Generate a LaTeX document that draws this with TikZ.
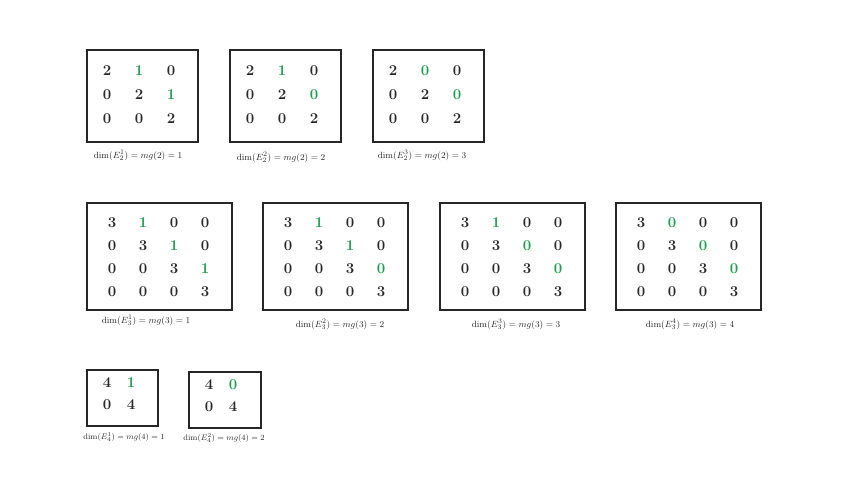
\documentclass[tikz,border=0pt]{standalone}
\usepackage{amsmath}
\definecolor{mk}{RGB}{40,40,40}
\definecolor{mg}{RGB}{25,160,75}
\tikzset{
  box/.style={draw=black!85, line width=2.2pt, anchor=north west, inner sep=0pt},
  ent/.style={font=\fontsize{15}{15}\selectfont\bfseries, inner sep=0pt},
  lab/.style={font=\fontsize{9.5}{10}\selectfont, inner sep=0pt, text=black!85},
}
% \Mat{name}{left}{top}{w}{h}{offx}{offy}{rows}; spacing from \mdx, \mdy
\newcommand\Mat[8]{%
  \node[box, minimum width=#4, minimum height=#5] (#1) at (#2,#3) {};
  \foreach \row [count=\i] in {#8} {
    \foreach \v/\c [count=\j] in \row {
      \node[ent, text=m\c] (#1e\i\j) at ({#2+#6+(\j-1)*\mdx},{#3+#7+(\i-1)*\mdy}) {\v};
    }
  }%
}
\begin{document}
\begin{tikzpicture}[x=1pt,y=-1pt]
\useasboundingbox (0,0) rectangle (848,495);
% row 1
\def\mdx{32}\def\mdy{24}
\Mat{a}{86}{49}{111pt}{92pt}{21}{22}{{2/k,1/g,0/k},{0/k,2/k,1/g},{0/k,0/k,2/k}}
\Mat{b}{229}{49}{111pt}{92pt}{21}{22}{{2/k,1/g,0/k},{0/k,2/k,0/g},{0/k,0/k,2/k}}
\Mat{c}{372}{49}{111pt}{92pt}{21}{22}{{2/k,0/g,0/k},{0/k,2/k,0/g},{0/k,0/k,2/k}}
\node[lab] (la) at (138,155) {$\dim(E_2^1)=mg(2)=1$};
\node[lab] (lb) at (281,157) {$\dim(E_2^2)=mg(2)=2$};
\node[lab] (lc) at (422,155) {$\dim(E_2^3)=mg(2)=3$};
% row 2
\def\mdx{31}\def\mdy{23}
\Mat{d}{86}{202}{145pt}{107pt}{26}{21}{{3/k,1/g,0/k,0/k},{0/k,3/k,1/g,0/k},{0/k,0/k,3/k,1/g},{0/k,0/k,0/k,3/k}}
\Mat{e}{262}{202}{145pt}{107pt}{26}{21}{{3/k,1/g,0/k,0/k},{0/k,3/k,1/g,0/k},{0/k,0/k,3/k,0/g},{0/k,0/k,0/k,3/k}}
\Mat{f}{439}{202}{145pt}{107pt}{26}{21}{{3/k,1/g,0/k,0/k},{0/k,3/k,0/g,0/k},{0/k,0/k,3/k,0/g},{0/k,0/k,0/k,3/k}}
\Mat{g}{615}{202}{145pt}{107pt}{26}{21}{{3/k,0/g,0/k,0/k},{0/k,3/k,0/g,0/k},{0/k,0/k,3/k,0/g},{0/k,0/k,0/k,3/k}}
\node[lab] (ld) at (146,320) {$\dim(E_3^1)=mg(3)=1$};
\node[lab] (le) at (340,324) {$\dim(E_3^2)=mg(3)=2$};
\node[lab] (lf) at (516,324) {$\dim(E_3^3)=mg(3)=3$};
\node[lab] (lg) at (690,324) {$\dim(E_3^4)=mg(3)=4$};
% row 3
\def\mdx{24}\def\mdy{22}
\Mat{h}{86}{369}{71pt}{56pt}{21}{14}{{4/k,1/g},{0/k,4/k}}
\Mat{i}{188}{371}{72pt}{56pt}{21}{14}{{4/k,0/g},{0/k,4/k}}
\node[lab, font=\fontsize{8}{9}\selectfont] (lh) at (124,437) {$\dim(E_4^1)=mg(4)=1$};
\node[lab, font=\fontsize{8}{9}\selectfont] (li) at (224,438) {$\dim(E_4^2)=mg(4)=2$};
\end{tikzpicture}
\end{document}
